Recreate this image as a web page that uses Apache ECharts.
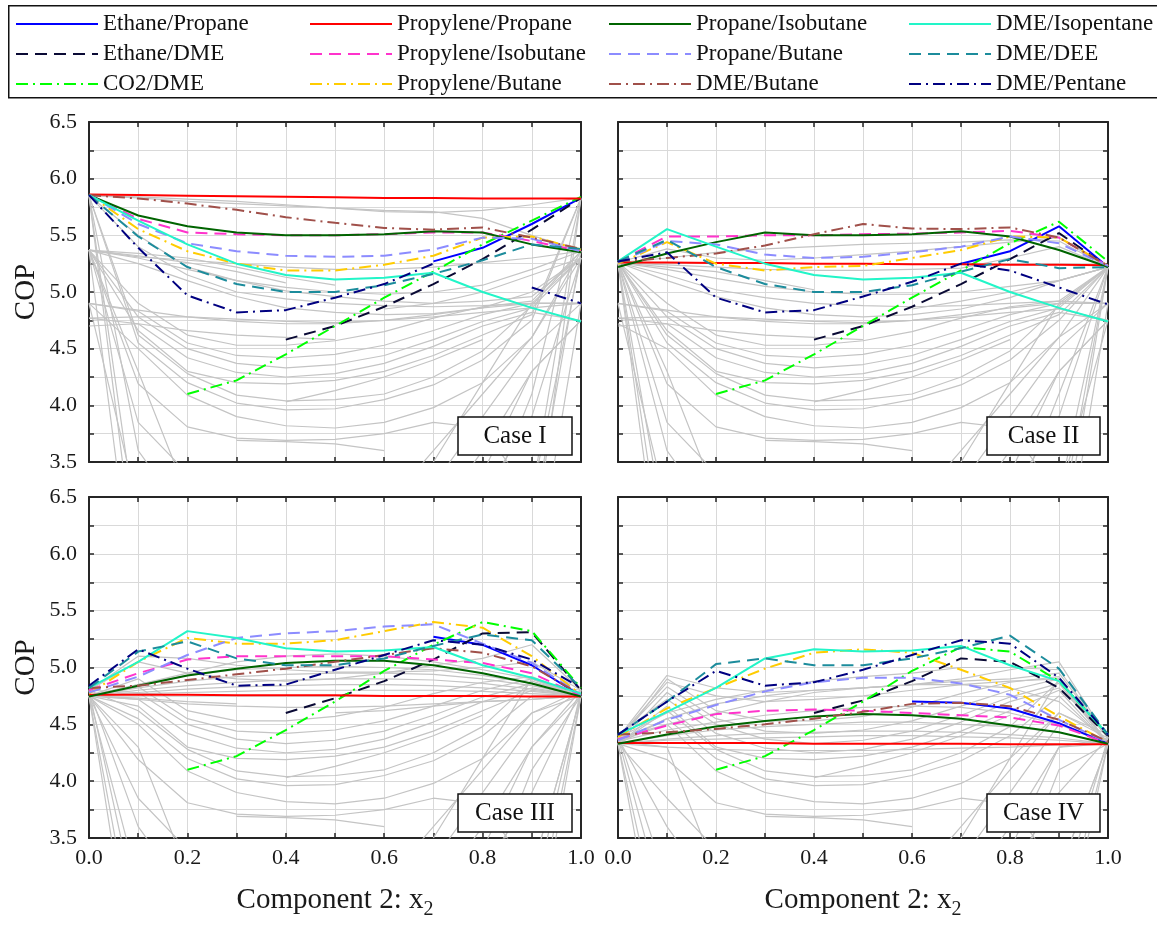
<!DOCTYPE html>
<html>
<head>
<meta charset="utf-8">
<script src="https://cdn.jsdelivr.net/npm/echarts@6/dist/echarts.min.js"></script>
<style>
html, body { margin: 0; padding: 0; background: #fff; }
#chart { width: 1157px; height: 925px; }
</style>
</head>
<body>
<div id="chart"></div>
<script>
const N = null;
const xs = [0, 0.1, 0.2, 0.3, 0.4, 0.5, 0.6, 0.7, 0.8, 0.9, 1.0];
const caseLabels = ['Case I', 'Case II', 'Case III', 'Case IV'];

// coloured mixtures, one row per case (I, II, III, IV)
const ethanePropane = [
    [N, N, N, N, N, N, N, 5.27, 5.39, 5.60, 5.83],
    [N, N, N, N, N, N, N, 5.25, 5.36, 5.58, 5.22],
    [N, N, N, N, N, N, N, 5.27, 5.20, 5.02, 4.75],
    [N, N, N, N, N, N, 4.70, 4.69, 4.64, 4.51, 4.33]
];
const ethaneDME = [
    [N, N, N, N, 4.58, 4.70, 4.87, 5.07, 5.29, 5.55, 5.83],
    [N, N, N, N, 4.58, 4.70, 4.87, 5.07, 5.29, 5.52, 5.22],
    [N, N, N, N, 4.60, 4.73, 4.88, 5.07, 5.30, 5.31, 4.80],
    [N, N, N, N, 4.60, 4.71, 4.88, 5.08, 5.05, 4.82, 4.40]
];
const co2DME = [
    [N, N, 4.10, 4.22, 4.45, 4.70, 4.95, 5.18, 5.42, 5.63, 5.84],
    [N, N, 4.10, 4.22, 4.45, 4.70, 4.95, 5.19, 5.43, 5.62, 5.27],
    [N, N, 4.10, 4.22, 4.45, 4.70, 4.97, 5.20, 5.40, 5.32, 4.82],
    [N, N, 4.10, 4.22, 4.45, 4.70, 4.97, 5.18, 5.14, 4.88, 4.41]
];
const propylenePropane = [
    [5.86, 5.855, 5.85, 5.845, 5.84, 5.835, 5.83, 5.83, 5.825, 5.825, 5.825],
    [5.26, 5.26, 5.255, 5.255, 5.25, 5.25, 5.245, 5.245, 5.24, 5.24, 5.235],
    [4.76, 4.76, 4.76, 4.755, 4.755, 4.755, 4.75, 4.75, 4.75, 4.745, 4.745],
    [4.335, 4.335, 4.335, 4.335, 4.33, 4.33, 4.33, 4.33, 4.325, 4.325, 4.325]
];
const propyleneIsobutane = [
    [5.86, 5.645, 5.525, 5.51, 5.50, 5.50, 5.51, 5.525, 5.525, 5.45, 5.36],
    [5.27, 5.49, 5.49, 5.50, 5.50, 5.51, 5.515, 5.525, 5.54, 5.48, 5.23],
    [4.80, 4.95, 5.07, 5.10, 5.10, 5.10, 5.10, 5.07, 5.04, 4.95, 4.75],
    [4.37, 4.49, 4.59, 4.62, 4.63, 4.62, 4.60, 4.58, 4.56, 4.49, 4.33]
];
const propyleneButane = [
    [5.86, 5.555, 5.36, 5.25, 5.19, 5.19, 5.24, 5.32, 5.48, 5.49, 5.375],
    [5.25, 5.44, 5.25, 5.19, 5.22, 5.23, 5.30, 5.37, 5.49, 5.48, 5.23],
    [4.77, 5.05, 5.26, 5.21, 5.21, 5.24, 5.32, 5.40, 5.35, 5.10, 4.76],
    [4.39, 4.64, 4.82, 4.99, 5.13, 5.16, 5.13, 4.98, 4.82, 4.57, 4.34]
];
const propaneIsobutane = [
    [5.855, 5.675, 5.58, 5.525, 5.50, 5.50, 5.51, 5.535, 5.525, 5.42, 5.35],
    [5.22, 5.34, 5.44, 5.525, 5.50, 5.50, 5.51, 5.535, 5.49, 5.37, 5.22],
    [4.745, 4.84, 4.93, 4.99, 5.04, 5.06, 5.06, 5.02, 4.95, 4.86, 4.745],
    [4.33, 4.41, 4.48, 4.53, 4.57, 4.59, 4.58, 4.55, 4.49, 4.43, 4.33]
];
const propaneButane = [
    [5.86, 5.60, 5.43, 5.36, 5.32, 5.31, 5.32, 5.375, 5.48, 5.47, 5.36],
    [5.26, 5.45, 5.42, 5.33, 5.30, 5.31, 5.35, 5.40, 5.49, 5.43, 5.23],
    [4.78, 4.92, 5.11, 5.26, 5.30, 5.32, 5.36, 5.38, 5.21, 5.04, 4.76],
    [4.36, 4.54, 4.67, 4.79, 4.87, 4.91, 4.91, 4.86, 4.76, 4.54, 4.34]
];
const dmeButane = [
    [5.855, 5.825, 5.78, 5.725, 5.66, 5.61, 5.565, 5.55, 5.57, 5.48, 5.38],
    [5.27, 5.30, 5.34, 5.41, 5.51, 5.60, 5.56, 5.555, 5.57, 5.48, 5.23],
    [4.82, 4.84, 4.89, 4.94, 4.99, 5.05, 5.11, 5.17, 5.13, 5.01, 4.76],
    [4.41, 4.43, 4.46, 4.50, 4.55, 4.61, 4.68, 4.69, 4.66, 4.54, 4.35]
];
const dmeIsopentane = [
    [5.855, 5.63, 5.42, 5.25, 5.15, 5.11, 5.125, 5.17, 5.00, 4.86, 4.74],
    [5.27, 5.555, 5.40, 5.25, 5.15, 5.11, 5.125, 5.17, 5.00, 4.86, 4.74],
    [4.82, 5.05, 5.32, 5.26, 5.17, 5.14, 5.15, 5.18, 5.02, 4.91, 4.77],
    [4.41, 4.61, 4.82, 5.08, 5.16, 5.14, 5.15, 5.19, 5.02, 4.88, 4.41]
];
const dmeDEE = [
    [5.855, 5.49, 5.22, 5.07, 5.00, 5.00, 5.06, 5.16, 5.28, 5.42, 5.38],
    [5.27, 5.46, 5.22, 5.07, 5.00, 5.00, 5.06, 5.18, 5.29, 5.21, 5.22],
    [4.82, 5.14, 5.23, 5.08, 5.02, 5.02, 5.08, 5.19, 5.29, 5.24, 4.82],
    [4.41, 4.70, 5.03, 5.08, 5.02, 5.02, 5.08, 5.17, 5.28, 4.99, 4.41]
];
const dmePentane = [
    [5.855, 5.39, 4.97, 4.82, 4.84, 4.95, 5.07, 5.25, N, 5.04, 4.90],
    [5.27, 5.35, 4.95, 4.82, 4.84, 4.96, 5.09, 5.25, 5.19, 5.04, 4.89],
    [4.84, 5.16, 4.99, 4.84, 4.85, 4.98, 5.11, 5.24, 5.20, 5.07, 4.82],
    [4.41, 4.70, 4.97, 4.84, 4.87, 4.98, 5.11, 5.24, 5.21, 4.91, 4.41]
];

// grey mixtures: interior points x = 0.1 .. 0.9 shared by all cases
const greyMid = [
    [4.90, 4.62, 4.53, 4.53, 4.57, 4.65, 4.77, 4.87, 4.92],
    [4.83, 4.55, 4.44, 4.42, 4.45, 4.53, 4.66, 4.80, 4.90],
    [4.78, 4.50, 4.37, 4.33, 4.36, 4.44, 4.58, 4.74, 4.86],
    [4.72, 4.42, 4.29, 4.25, 4.28, 4.37, 4.52, 4.70, 4.82],
    [4.66, 4.30, 4.20, 4.19, 4.22, 4.30, 4.44, 4.62, 4.80],
    [4.62, 4.28, 4.09, 4.04, 4.05, 4.10, 4.25, 4.48, 4.88],
    [4.50, 4.09, 3.90, 3.82, 3.80, 3.85, 3.98, 4.20, 4.60],
    [4.19, 3.81, 3.71, 3.69, 3.70, 3.75, 3.85, 3.80, 3.20],
    [N, N, 3.69, 3.68, 3.66, 3.60, N, N, N],
    [3.85, 3.40, N, N, N, N, N, N, N],
    [2.80, N, N, N, N, N, N, N, N],
    [2.40, N, N, N, N, N, N, N, N],
    [3.10, N, N, N, N, N, N, N, N],
    [N, N, N, N, N, N, N, N, 2.60],
    [N, N, N, N, N, N, N, N, 2.90],
    [N, N, N, N, N, N, N, N, 3.20],
    [N, N, N, N, N, N, N, 3.00, 4.10],
    [N, N, N, N, N, 3.10, 3.60, 4.10, 4.60],
    [N, N, N, N, N, N, 3.30, 3.90, 4.50],
    [4.55, 4.20, 4.02, 3.96, 3.97, 4.05, 4.18, 4.40, 4.75],
    [N, N, N, 4.03, 4.13, 4.25, 4.40, 4.58, N],
    [4.30, 3.20, N, N, N, N, N, N, N],
    [N, N, N, N, N, N, 3.50, 4.20, 4.90],
    [N, N, N, N, N, N, N, 3.40, 4.30],
    [N, N, N, N, N, N, N, N, 2.30],
    [N, N, N, N, N, N, N, 3.20, 3.90],
    [N, N, N, N, N, N, 3.00, 3.60, 4.30],
    [2.00, N, N, N, N, N, N, N, N],
    [3.60, 3.00, N, N, N, N, N, N, N]
];
// pure-fluid end points of the grey mixtures, per case
const greyLeft = [
    [5.37, 4.90, 5.37, 4.77, 5.37, 5.85, 4.90, 5.37, N, 5.37, 5.85, 5.85, 4.90, N, N, N, N, N, N, 5.85, N, 5.37, N, N, N, N, N, 5.37, 5.85],
    [5.26, 4.90, 5.26, 4.77, 5.26, 5.26, 4.72, 5.26, N, 5.26, 5.26, 5.26, 4.90, N, N, N, N, N, N, 5.26, N, 5.26, N, N, N, N, N, 5.26, 5.26],
    [4.75, 4.75, 4.80, 4.75, 4.75, 4.80, 4.75, 4.75, N, 4.75, 4.80, 4.75, 4.75, N, N, N, N, N, N, 4.75, N, 4.75, N, N, N, N, N, 4.75, 4.80],
    [4.33, 4.38, 4.33, 4.41, 4.33, 4.33, 4.38, 4.33, N, 4.33, 4.38, 4.33, 4.41, N, N, N, N, N, N, 4.33, N, 4.33, N, N, N, N, N, 4.33, 4.38]
];
const greyRight = [
    [5.36, 4.90, 5.30, 4.75, 5.83, 5.36, 5.30, 5.83, N, N, N, N, N, 5.83, 5.36, 5.30, 5.83, 5.36, 4.90, 5.83, N, N, 5.30, 4.75, 4.90, 5.30, 4.75, N, N],
    [5.22, 4.90, 5.22, 4.75, 5.22, 5.22, 4.90, 5.22, N, N, N, N, N, 5.22, 5.22, 4.75, 5.22, 5.22, 4.90, 5.22, N, N, 5.22, 4.75, 4.90, 5.22, 4.75, N, N],
    [4.75, 4.75, 4.80, 4.75, 4.75, 4.75, 4.80, 4.75, N, N, N, N, N, 4.75, 4.80, 4.75, 4.75, 4.75, 4.80, 4.75, N, N, 4.75, 4.80, 4.75, 4.80, 4.75, N, N],
    [4.33, 4.38, 4.33, 4.41, 4.33, 4.33, 4.38, 4.33, N, N, N, N, N, 4.33, 4.38, 4.33, 4.33, 4.41, 4.33, 4.33, N, N, 4.33, 4.38, 4.33, 4.38, 4.33, N, N]
];
// grey mixtures that only appear in one case
const greyCaseI = [
    [5.85, 5.84, 5.82, 5.80, 5.77, 5.74, 5.71, 5.70, 5.72, 5.77, 5.83],
    [5.85, 5.83, 5.80, 5.78, 5.76, 5.74, 5.72, 5.71, 5.65, 5.50, 5.36],
    [5.37, 5.34, 5.30, 5.22, 5.13, 5.06, N, N, N, N, N],
    [5.37, 5.32, 5.26, 5.18, 5.08, N, N, N, N, N, N],
    [5.37, 5.30, 5.20, 5.10, 5.01, 4.96, 4.92, 4.90, 4.92, 4.96, 5.30],
    [4.90, 4.84, 4.78, 4.74, 4.72, 4.72, 4.75, 4.80, 4.86, 4.90, 4.90],
    [4.77, 4.78, 4.78, 4.76, 4.74, 4.73, 4.75, 4.78, 4.82, 4.86, 4.90],
    [4.70, 4.72, 4.66, 4.62, 4.60, 4.58, N, N, N, N, N],
    [5.85, 5.50, 5.22, 5.10, 5.04, 5.00, 4.98, 5.00, 5.06, 5.20, 5.36],
    [5.37, 5.31, 5.28, 5.25, 5.22, 5.20, 5.20, 5.22, 5.26, 5.30, 5.36],
    [N, N, N, N, N, N, 4.85, 4.90, 5.00, 5.15, 5.30],
    [5.85, 5.40, 5.15, 5.00, 4.94, 4.90, 4.88, 4.87, 4.88, 4.90, 4.90],
    [5.37, 5.25, 5.10, 4.96, 4.86, 4.82, 4.80, 4.81, 4.86, 5.00, 5.30]
];
const greyCaseII = [
    [5.26, 5.30, 5.35, 5.38, 5.40, 5.42, 5.43, 5.44, 5.46, 5.45, 5.22],
    [5.26, 5.20, 5.12, 5.05, 5.00, 4.98, 4.98, 5.00, 5.05, 5.10, 5.22],
    [5.26, 5.15, 5.02, 4.95, 4.90, 4.88, 4.87, 4.88, 4.90, 4.92, 4.90],
    [4.90, 4.84, 4.78, 4.74, 4.72, 4.72, 4.75, 4.80, 4.86, 4.90, 4.90],
    [4.77, 4.78, 4.78, 4.76, 4.74, 4.73, 4.75, 4.78, 4.82, 4.85, 4.75],
    [5.26, 5.22, 5.18, 5.10, 5.02, N, N, N, N, N, N],
    [5.26, 5.24, 5.22, 5.20, 5.19, 5.19, 5.20, 5.21, 5.30, 5.40, 5.22],
    [5.26, 5.10, 4.96, 4.86, 4.80, 4.78, 4.80, 4.85, 4.95, 5.10, 5.22],
    [N, N, N, N, N, N, 4.85, 4.92, 5.00, 5.10, 5.22],
    [4.70, 4.72, 4.66, 4.62, 4.60, 4.58, N, N, N, N, N],
    [5.26, 5.38, 5.30, 5.28, 5.30, 5.33, 5.36, 5.40, 5.44, 5.48, 5.22]
];
const greyCaseIII = [
    [4.75, 4.85, 4.93, 4.98, 5.00, 5.01, 5.00, 4.98, 4.93, 4.86, 4.75],
    [4.75, 4.82, 4.88, 4.92, 4.94, 4.95, 4.95, 4.94, 4.90, 4.84, 4.75],
    [4.75, 4.80, 4.84, 4.87, 4.89, 4.90, 4.90, 4.89, 4.86, 4.81, 4.75],
    [4.75, 4.78, 4.81, 4.83, 4.84, 4.85, 4.85, 4.84, 4.82, 4.79, 4.75],
    [4.75, 4.77, 4.78, 4.79, 4.80, 4.80, 4.80, 4.80, 4.79, 4.77, 4.75],
    [4.80, 5.10, 5.08, 5.02, 4.98, 4.96, 4.96, 4.97, 5.00, 5.05, 4.80],
    [4.80, 5.05, 4.95, 4.90, 4.88, 4.90, 4.95, 5.02, 5.08, 5.20, 4.80],
    [4.75, 4.85, 4.95, 5.05, 5.10, 5.12, 5.10, 5.05, 4.98, 4.90, 4.75],
    [4.75, 4.72, 4.68, 4.66, 4.65, 4.65, 4.66, 4.68, 4.70, 4.72, 4.75],
    [4.75, 4.73, 4.70, 4.68, N, N, N, N, N, N, N],
    [N, N, N, N, N, 4.60, 4.62, 4.66, 4.70, 4.72, 4.75]
];
const greyCaseIV = [
    [4.38, 4.93, 4.82, 4.78, 4.80, 4.82, 4.85, 4.88, 4.90, 4.95, 4.38],
    [4.38, 4.87, 4.75, 4.70, 4.72, 4.75, 4.80, 4.85, 4.88, 4.90, 4.38],
    [4.35, 4.50, 4.60, 4.70, 4.78, 4.82, 4.85, 4.85, 4.82, 4.70, 4.35],
    [4.35, 4.45, 4.52, 4.58, 4.62, 4.65, 4.66, 4.65, 4.60, 4.50, 4.35],
    [4.33, 4.40, 4.45, 4.48, 4.50, 4.52, 4.52, 4.50, 4.48, 4.43, 4.33],
    [4.33, 4.37, 4.40, 4.42, 4.43, 4.44, 4.44, 4.43, 4.41, 4.38, 4.33],
    [4.33, 4.36, 4.37, 4.38, 4.39, 4.40, 4.40, 4.39, 4.38, 4.36, 4.33],
    [4.38, 4.60, 4.72, 4.80, 4.88, 4.92, 4.95, 5.00, 5.00, 4.98, 4.38],
    [4.35, 4.30, 4.28, 4.27, 4.27, 4.27, 4.28, 4.29, 4.30, 4.32, 4.33],
    [4.35, 4.55, 4.68, 4.75, 4.80, 4.82, 4.85, 4.90, 4.98, 5.05, 4.38]
];
const greyCases = [greyCaseI, greyCaseII, greyCaseIII, greyCaseIV];

const lineNames = ['Ethane/Propane', 'Ethane/DME', 'CO2/DME', 'Propylene/Propane', 'Propylene/Isobutane', 'Propylene/Butane',
    'Propane/Isobutane', 'Propane/Butane', 'DME/Butane', 'DME/Isopentane', 'DME/DEE', 'DME/Pentane'];
const lineValues = [ethanePropane, ethaneDME, co2DME, propylenePropane, propyleneIsobutane, propyleneButane,
    propaneIsobutane, propaneButane, dmeButane, dmeIsopentane, dmeDEE, dmePentane];
const lineColors = ['#0000ff', '#0a0a35', '#00ff00', '#ff0000', '#ff33cc', '#ffcc00',
    '#006400', '#8c8cff', '#a0504a', '#22f5c8', '#1c8c9c', '#000080'];
const lineKinds = ['solid', 'dashed', 'dashdot', 'solid', 'dashed', 'dashdot',
    'solid', 'dashed', 'dashdot', 'solid', 'dashed', 'dashdot'];
const dashOf = { solid: 'solid', dashed: [12, 7], dashdot: [12, 5, 2, 5] };

const FONT = 'Liberation Serif';
const AX = '#262626';
const grids = [
    { left: 89, top: 122, width: 492, height: 340 },
    { left: 618, top: 122, width: 490, height: 340 },
    { left: 89, top: 497, width: 492, height: 341 },
    { left: 618, top: 497, width: 490, height: 341 }
];

function pts(vals) {
    return vals.map((v, i) => [xs[i], v == null ? '-' : v]);
}

let xAxis = [], yAxis = [], series = [];
grids.forEach((g, p) => {
    let bottomRow = p >= 2, leftCol = p % 2 === 0;
    let frame = { show: true, onZero: false, lineStyle: { color: AX, width: 2 } };
    let tick = { show: true, inside: true, length: 5, lineStyle: { color: AX, width: 1.5 } };
    xAxis.push({
        type: 'value', gridIndex: p, min: 0, max: 1, interval: 0.1,
        axisLine: frame, axisTick: tick,
        splitLine: { show: true, lineStyle: { color: '#d9d9d9', width: 1 } },
        axisLabel: {
            show: bottomRow, margin: 9, fontFamily: FONT, fontSize: 22, color: '#1a1a1a',
            formatter: v => Math.round(v * 10) % 2 === 0 ? v.toFixed(1) : ''
        },
        name: bottomRow ? 'Component 2: x{sub|2}' : '',
        nameLocation: 'middle', nameGap: 42,
        nameTextStyle: {
            fontFamily: FONT, fontSize: 29, color: '#1a1a1a',
            rich: { sub: { fontFamily: FONT, fontSize: 20, color: '#1a1a1a', padding: [20, 0, 0, 0] } }
        }
    });
    xAxis.push({
        type: 'value', gridIndex: p, position: 'top', min: 0, max: 1, interval: 0.1,
        axisLine: frame, axisTick: tick, axisLabel: { show: false }, splitLine: { show: false }
    });
    yAxis.push({
        type: 'value', gridIndex: p, min: 3.5, max: 6.5, interval: 0.25,
        axisLine: frame, axisTick: tick,
        splitLine: { show: true, lineStyle: { color: '#d9d9d9', width: 1 } },
        axisLabel: {
            show: leftCol, margin: 12, fontFamily: FONT, fontSize: 22, color: '#1a1a1a',
            formatter: v => Math.round(v * 4) % 2 === 0 ? v.toFixed(1) : ''
        },
        name: leftCol ? 'COP' : '',
        nameLocation: 'middle', nameGap: 48, nameRotate: 90,
        nameTextStyle: { fontFamily: FONT, fontSize: 29, color: '#1a1a1a' }
    });
    yAxis.push({
        type: 'value', gridIndex: p, position: 'right', min: 3.5, max: 6.5, interval: 0.25,
        axisLine: frame, axisTick: tick, axisLabel: { show: false }, splitLine: { show: false }
    });

    // grey background mixtures
    let greyRows = greyMid.map((mid, k) => [greyLeft[p][k]].concat(mid, [greyRight[p][k]]))
        .concat(greyCases[p]);
    greyRows.forEach(row => {
        series.push({
            type: 'line', xAxisIndex: 2 * p, yAxisIndex: 2 * p,
            data: pts(row), symbol: 'none', showSymbol: false, silent: true, z: 1,
            lineStyle: { color: '#c4c4c4', width: 1.2 }
        });
    });

    lineNames.forEach((name, j) => {
        series.push({
            name: name, type: 'line', xAxisIndex: 2 * p, yAxisIndex: 2 * p,
            data: pts(lineValues[j][p]), symbol: 'none', showSymbol: false, z: 3,
            itemStyle: { color: lineColors[j] },
            lineStyle: { color: lineColors[j], width: 2, type: dashOf[lineKinds[j]] }
        });
    });
});

const legendCols = [
    ['Ethane/Propane', 'Ethane/DME', 'CO2/DME'],
    ['Propylene/Propane', 'Propylene/Isobutane', 'Propylene/Butane'],
    ['Propane/Isobutane', 'Propane/Butane', 'DME/Butane'],
    ['DME/Isopentane', 'DME/DEE', 'DME/Pentane']
];
const legendLeft = [15, 309, 608, 908];

// "Case" tag boxes, bottom right of each panel
const tags = [
    { x: 458, y: 417, w: 114 }, { x: 987, y: 417, w: 113 },
    { x: 458, y: 794, w: 114 }, { x: 987, y: 794, w: 113 }
];
let graphic = [{
    type: 'rect', left: 8, top: 5, z: 0,
    shape: { width: 1160, height: 92 },
    style: { fill: '#fff', stroke: '#111', lineWidth: 1.5 }
}];
tags.forEach((t, i) => {
    graphic.push({
        type: 'rect', z: 50, shape: { x: t.x, y: t.y, width: t.w, height: 38 },
        style: { fill: '#fff', stroke: '#111', lineWidth: 1.5 }
    });
    graphic.push({
        type: 'text', z: 51, x: t.x + t.w / 2, y: t.y + 19,
        style: { text: caseLabels[i], font: '25px "' + FONT + '"', fill: '#111', textAlign: 'center', textVerticalAlign: 'middle' }
    });
});

let myChart = echarts.init(document.getElementById('chart'));
myChart.setOption({
    animation: false,
    grid: grids,
    xAxis: xAxis,
    yAxis: yAxis,
    legend: legendCols.map((names, j) => ({
        data: names, orient: 'vertical', left: legendLeft[j], top: 12, padding: 0,
        itemWidth: 82, itemHeight: 14, itemGap: 6, selectedMode: false,
        itemStyle: { opacity: 0 },
        textStyle: { fontFamily: FONT, fontSize: 23, color: '#111', lineHeight: 24 }
    })),
    graphic: graphic,
    series: series
});
</script>
</body>
</html>
